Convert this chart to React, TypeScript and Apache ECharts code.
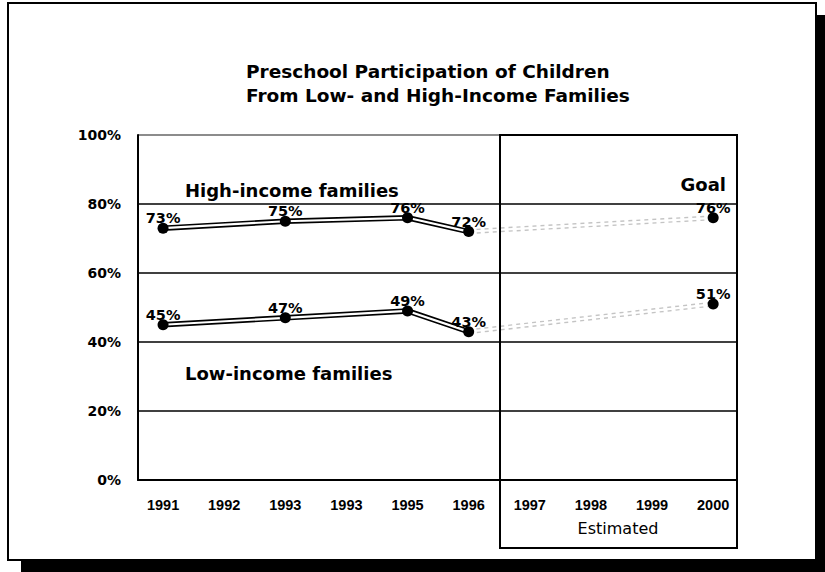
import React, { useEffect, useRef } from "react";
import * as echarts from "echarts";

const categories = ["1991", "1992", "1993", "1993", "1995", "1996", "1997", "1998", "1999", "2000"];
const highIncome: (number | null)[] = [73, null, 75, null, 76, 72, null, null, null, 76];
const lowIncome: (number | null)[] = [45, null, 47, null, 49, 43, null, null, null, 51];
const lastActualIndex = 5;
const yTicks = [0, 20, 40, 60, 80, 100];

const titleText = "Preschool Participation of Children\nFrom Low- and High-Income Families";
const highLabel = "High-income families";
const lowLabel = "Low-income families";
const goalLabel = "Goal";
const estimatedLabel = "Estimated";

function pairs(values: (number | null)[], from: number, to: number): [number, number][] {
  const out: [number, number][] = [];
  values.forEach((v, i) => {
    if (v != null && i >= from && i <= to) out.push([i, v]);
  });
  return out;
}

function lastIndex(values: (number | null)[]): number {
  let idx = 0;
  values.forEach((v, i) => {
    if (v != null) idx = i;
  });
  return idx;
}

function lineSeries(name: string, values: (number | null)[]) {
  const actual = pairs(values, 0, lastActualIndex);
  const projected = pairs(values, lastActualIndex, lastIndex(values));
  return [
    {
      name: name + " outer",
      type: "line",
      data: actual,
      symbol: "none",
      lineStyle: { color: "#000", width: 5.5 },
      z: 3,
      silent: true,
    },
    {
      name: name + " inner",
      type: "line",
      data: actual,
      symbol: "none",
      lineStyle: { color: "#fff", width: 2.2 },
      z: 4,
      silent: true,
    },
    {
      name: name + " projected outer",
      type: "line",
      data: projected,
      symbol: "none",
      lineStyle: { color: "#c4c4c4", width: 5, type: [4, 4] },
      z: 3,
      silent: true,
    },
    {
      name: name + " projected inner",
      type: "line",
      data: projected,
      symbol: "none",
      lineStyle: { color: "#fff", width: 2.2 },
      z: 4,
      silent: true,
    },
    {
      name: name,
      type: "scatter",
      data: pairs(values, 0, values.length - 1),
      symbol: "circle",
      symbolSize: 11,
      itemStyle: { color: "#000", opacity: 1 },
      z: 6,
      label: {
        show: true,
        position: "top",
        distance: -3,
        formatter: (p: any) => p.value[1] + "%",
        color: "#000",
        opacity: 1,
        fontFamily: "DejaVu Sans",
        fontWeight: "bold",
        fontSize: 14.5,
      },
    },
  ];
}

export default function App() {
  const ref = useRef<HTMLDivElement>(null);
  useEffect(() => {
    if (!ref.current) return;
    const chart = echarts.init(ref.current, undefined, { renderer: "svg" });
    const option: any = {
      animation: false,
      backgroundColor: "#fff",
      title: {
        text: titleText,
        left: 241,
        top: 54,
        textStyle: {
          fontFamily: "DejaVu Sans",
          fontWeight: "bold",
          fontSize: 18.5,
          lineHeight: 24,
          color: "#000",
        },
      },
      grid: { left: 138, right: 88, top: 135, bottom: 92, containLabel: false },
      xAxis: {
        type: "value",
        min: -0.41,
        max: 9.39,
        axisLine: { show: true, onZero: false, lineStyle: { color: "#000", width: 2 } },
        axisTick: { show: false },
        splitLine: { show: false },
        axisLabel: {
          customValues: categories.map((_, i) => i),
          formatter: (v: number) => categories[Math.round(v)],
          color: "#000",
          fontFamily: "Liberation Sans",
          fontWeight: "bold",
          fontSize: 14.5,
          margin: 17,
        },
      },
      yAxis: {
        type: "value",
        min: yTicks[0],
        max: yTicks[yTicks.length - 1],
        interval: 20,
        axisLine: { show: true, onZero: false, lineStyle: { color: "#000", width: 2 } },
        axisTick: { show: false },
        axisLabel: {
          formatter: "{value}%",
          color: "#000",
          fontFamily: "DejaVu Sans",
          fontWeight: "bold",
          fontSize: 14,
          margin: 17,
        },
        splitLine: {
          show: true,
          lineStyle: {
            color: ["#000", "#000", "#000", "#000", "#000", "#666"],
            width: 1.5,
          },
        },
      },
      graphic: [
        {
          type: "rect",
          z: -100,
          silent: true,
          shape: { x: 21, y: 15, width: 820, height: 570 },
          style: { fill: "#000" },
        },
        {
          type: "rect",
          z: -99,
          silent: true,
          shape: { x: 8, y: 3, width: 808, height: 557 },
          style: { fill: "#fff", stroke: "#000", lineWidth: 2 },
        },
        {
          type: "rect",
          z: 5,
          silent: true,
          shape: { x: 500, y: 135, width: 237, height: 413 },
          style: { fill: "none", stroke: "#000", lineWidth: 2 },
        },
        {
          type: "text",
          z: 10,
          x: 185,
          y: 190,
          style: {
            text: highLabel,
            fill: "#000",
            font: "bold 18px 'DejaVu Sans'",
            verticalAlign: "middle",
            align: "left",
          },
        },
        {
          type: "text",
          z: 10,
          x: 185,
          y: 373,
          style: {
            text: lowLabel,
            fill: "#000",
            font: "bold 18px 'DejaVu Sans'",
            verticalAlign: "middle",
            align: "left",
          },
        },
        {
          type: "text",
          z: 10,
          x: 726,
          y: 184,
          style: {
            text: goalLabel,
            fill: "#000",
            font: "bold 18px 'DejaVu Sans'",
            verticalAlign: "middle",
            align: "right",
          },
        },
        {
          type: "text",
          z: 10,
          x: 618,
          y: 528,
          style: {
            text: estimatedLabel,
            fill: "#000",
            font: "16px 'DejaVu Sans'",
            verticalAlign: "middle",
            align: "center",
          },
        },
      ],
      series: [...lineSeries("High-income families", highIncome), ...lineSeries("Low-income families", lowIncome)],
    };
    chart.setOption(option);
    return () => chart.dispose();
  }, []);
  return (
    <div
      ref={ref}
      style={{ position: "absolute", left: 0, top: 0, width: 825, height: 572 }}
    />
  );
}
